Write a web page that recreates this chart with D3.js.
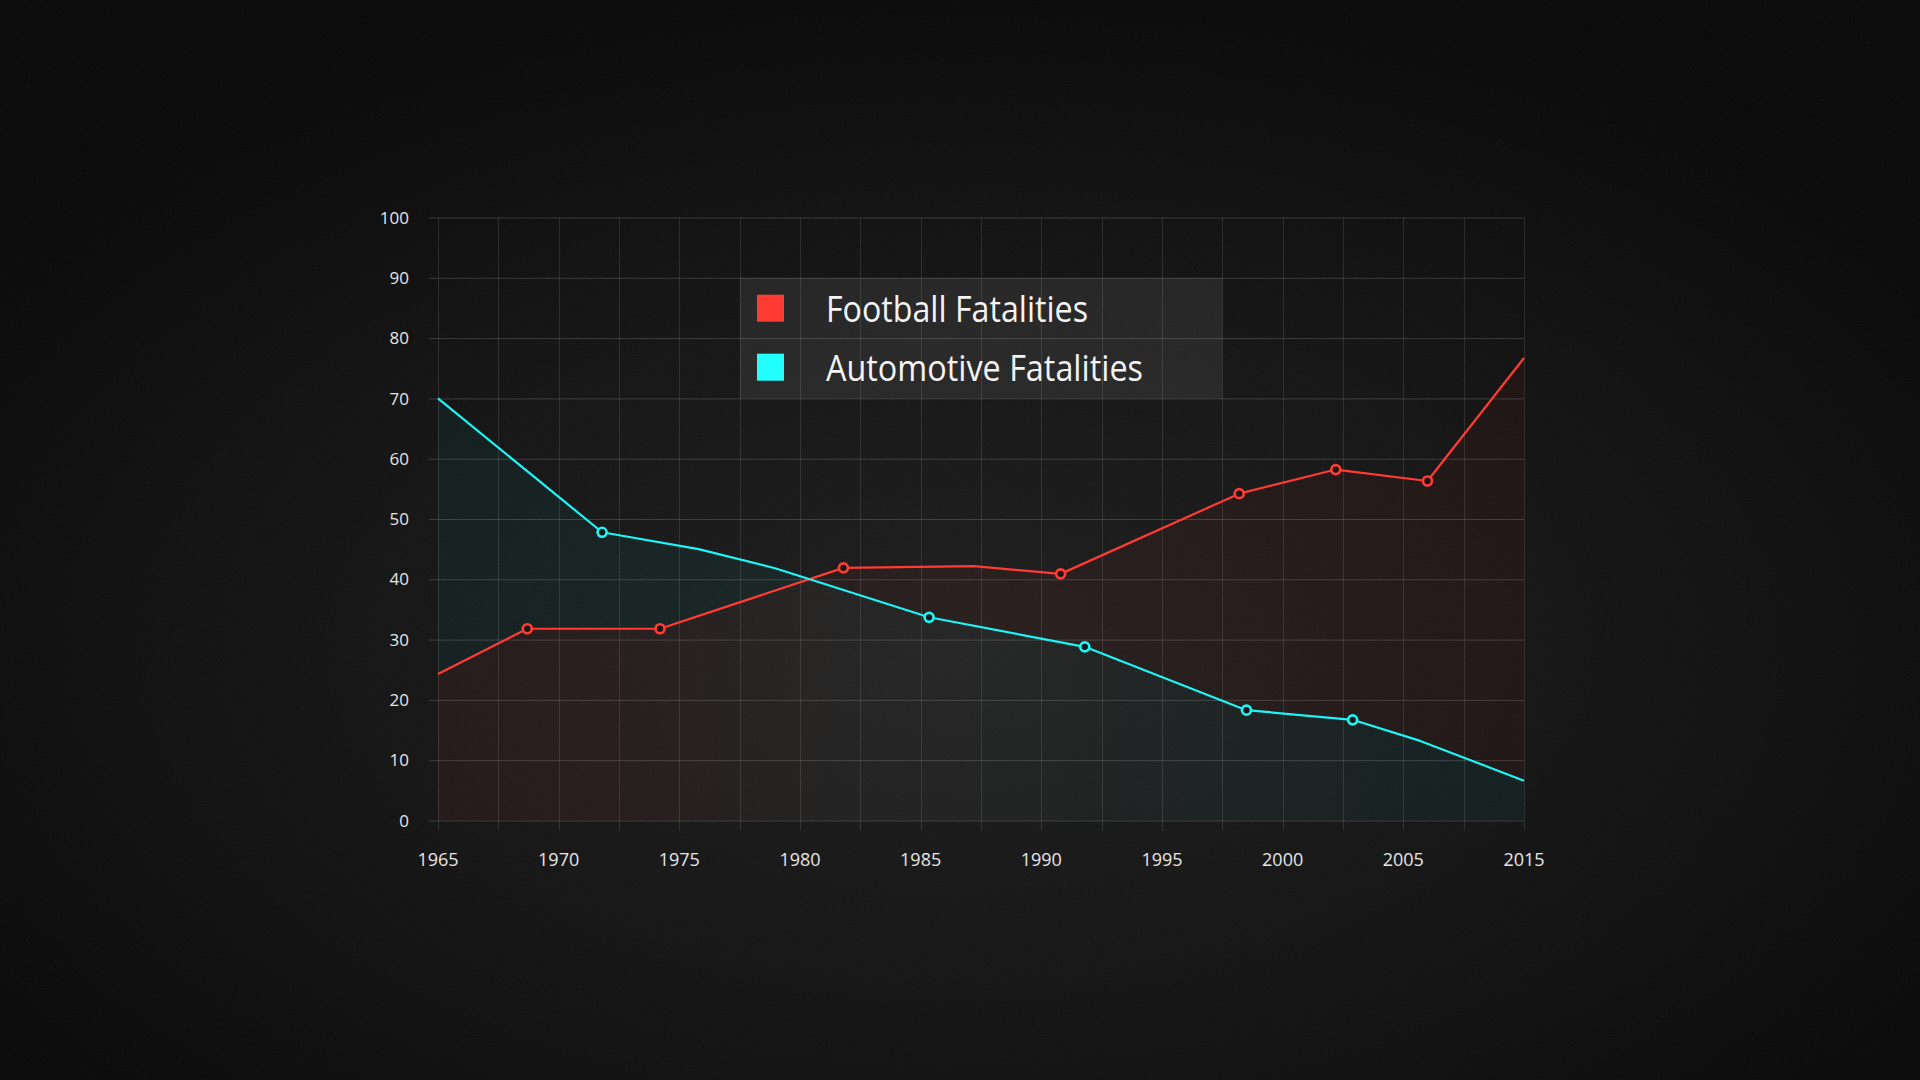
<!DOCTYPE html>
<html><head><meta charset="utf-8">
<script src="https://cdn.jsdelivr.net/npm/d3@7"></script>
<style>html,body{margin:0;padding:0;background:#111;overflow:hidden}</style>
</head><body>
<svg id="chart" width="1920" height="1080"></svg>
<script>
// ---- data ----
const tickLabels = ["1965","1970","1975","1980","1985","1990","1995","2000","2005","2015"];
const yTicks = [0,10,20,30,40,50,60,70,80,90,100];
const seriesNames = ["Football Fatalities","Automotive Fatalities"];
const seriesColors = ["#ff3b34","#1ff4f4"];
// x positions are read against the evenly spaced axis (5 years per label step)
const footballYears  = [1965, 1968.7, 1974.2, 1981.8, 1987.2, 1990.8, 1998.2, 2002.2, 2006.0, 2010];
const footballValues = [24.3, 31.8, 31.8, 41.9, 42.2, 40.9, 54.2, 58.2, 56.3, 76.7];
const footballMarked = [0,1,1,1,0,1,1,1,1,0];
const autoYears  = [1965, 1971.8, 1975.8, 1979.0, 1985.35, 1991.8, 1998.5, 2002.9, 2005.7, 2010];
const autoValues = [70, 47.8, 45.0, 41.8, 33.7, 28.8, 18.3, 16.7, 13.2, 6.6];
const autoMarked = [0,1,0,0,1,1,1,1,0,0];

const football = footballYears.map((x,i)=>({x, y: footballValues[i], m: footballMarked[i]}));
const auto = autoYears.map((x,i)=>({x, y: autoValues[i], m: autoMarked[i]}));

// ---- layout ----
const W = 1920, H = 1080;
const L = 438, R = 1524, T = 217.5, B = 820.5;
const x = d3.scaleLinear().domain([1965, 2010]).range([L, R]);
const y = d3.scaleLinear().domain([0, 100]).range([B, T]);

const svg = d3.select("#chart");
const defs = svg.append("defs");

// background vignette
const bg = defs.append("radialGradient").attr("id","bg").attr("cx","50%").attr("cy","60%").attr("r","62%");
bg.append("stop").attr("offset","0").attr("stop-color","#1d1d1d");
bg.append("stop").attr("offset","0.5").attr("stop-color","#141414");
bg.append("stop").attr("offset","1").attr("stop-color","#080808");
svg.append("rect").attr("width",W).attr("height",H).attr("fill","url(#bg)");

// grain
const nf = defs.append("filter").attr("id","noise").attr("x",0).attr("y",0).attr("width","100%").attr("height","100%");
nf.append("feTurbulence").attr("type","fractalNoise").attr("baseFrequency","0.9").attr("numOctaves","2").attr("seed","3");
nf.append("feColorMatrix").attr("type","saturate").attr("values","0");
svg.append("rect").attr("width",W).attr("height",H).attr("filter","url(#noise)").attr("opacity",0.05);

// legend box (behind grid)
const lgX0 = x(1977.5), lgX1 = x(1997.5), lgY0 = y(90), lgY1 = y(70);
svg.append("rect").attr("x",lgX0).attr("y",lgY0).attr("width",lgX1-lgX0).attr("height",lgY1-lgY0)
  .attr("fill","rgba(255,255,255,0.075)");

// ---- areas ----
const area = d3.area().x(d=>x(d.x)).y0(y(0)).y1(d=>y(d.y));
const redPath = area(football), cyanPath = area(auto);

defs.append("clipPath").attr("id","clipCyan").append("path").attr("d",cyanPath);
const mCyan = defs.append("mask").attr("id","notCyan").attr("maskUnits","userSpaceOnUse")
  .attr("x",0).attr("y",0).attr("width",W).attr("height",H);
mCyan.append("rect").attr("width",W).attr("height",H).attr("fill","#fff");
mCyan.append("path").attr("d",cyanPath).attr("fill","#000");
const mRed = defs.append("mask").attr("id","notRed").attr("maskUnits","userSpaceOnUse")
  .attr("x",0).attr("y",0).attr("width",W).attr("height",H);
mRed.append("rect").attr("width",W).attr("height",H).attr("fill","#fff");
mRed.append("path").attr("d",redPath).attr("fill","#000");

const ig = defs.append("linearGradient").attr("id","inter").attr("gradientUnits","userSpaceOnUse")
  .attr("x1",L).attr("y1",0).attr("x2",R).attr("y2",0);
[[0,"rgb(255,80,70)",0.065],[0.2,"rgb(255,110,100)",0.055],[0.36,"rgb(210,190,185)",0.045],
 [0.55,"rgb(190,205,205)",0.04],[0.78,"rgb(60,220,220)",0.045],[1,"rgb(0,230,230)",0.05]]
 .forEach(s=>ig.append("stop").attr("offset",s[0]).attr("stop-color",s[1]).attr("stop-opacity",s[2]));

svg.append("path").attr("d",redPath).attr("fill","rgb(255,60,55)").attr("fill-opacity",0.055).attr("mask","url(#notCyan)");
svg.append("path").attr("d",cyanPath).attr("fill","rgb(0,230,230)").attr("fill-opacity",0.05).attr("mask","url(#notRed)");
svg.append("path").attr("d",redPath).attr("fill","url(#inter)").attr("clip-path","url(#clipCyan)");

// ---- grid ----
const grid = svg.append("g");
grid.selectAll("line.h").data(yTicks).join("line").attr("class","h")
  .attr("x1",L-9).attr("x2",R).attr("y1",d=>y(d)+0.5).attr("y2",d=>y(d)+0.5)
  .attr("stroke","#fff").attr("stroke-opacity",0.16).attr("stroke-width",1);
const halfSteps = d3.range(0, 19).map(k=>1965 + 2.5*k);
grid.selectAll("line.v").data(halfSteps).join("line").attr("class","v")
  .attr("x1",d=>Math.round(x(d))+0.5).attr("x2",d=>Math.round(x(d))+0.5).attr("y1",T).attr("y2",B+10)
  .attr("stroke","#fff").attr("stroke-opacity",0.11).attr("stroke-width",1);

// ---- axes labels ----
const font = "'Open Sans', 'Noto Sans', sans-serif";
svg.append("g").selectAll("text").data(yTicks).join("text")
  .attr("x",409).attr("y",d=>y(d)).attr("dy","0.36em").attr("text-anchor","end")
  .attr("font-family",font).attr("font-size",17).attr("fill","#e6e6e6").text(d=>d);
svg.append("g").selectAll("text").data(tickLabels).join("text")
  .attr("x",(d,i)=>x(1965+5*i)).attr("y",866).attr("text-anchor","middle")
  .attr("font-family",font).attr("font-size",18).attr("fill","#e6e6e6").text(d=>d);

// ---- lines ----
const line = d3.line().x(d=>x(d.x)).y(d=>y(d.y));
[[football,seriesColors[0]],[auto,seriesColors[1]]].forEach(([data,c])=>{
  svg.append("path").attr("d",line(data)).attr("fill","none").attr("stroke",c)
    .attr("stroke-width",2.2).attr("stroke-linejoin","round");
});
[[football,seriesColors[0]],[auto,seriesColors[1]]].forEach(([data,c])=>{
  svg.append("g").selectAll("circle").data(data.filter(d=>d.m)).join("circle")
    .attr("cx",d=>x(d.x)).attr("cy",d=>y(d.y)).attr("r",4.5)
    .attr("fill","#181616").attr("stroke",c).attr("stroke-width",2.7);
});

// ---- legend ----
const lg = svg.append("g");
const legendBase = [321.7, 380.7];
const legendWidths = [262, 317];
const swatchColors = ["#ff3b34","#22ffff"];
seriesNames.forEach((n,i)=>{
  lg.append("rect").attr("x",757).attr("y",legendBase[i]-27).attr("width",27).attr("height",27).attr("fill",swatchColors[i]);
  const t = lg.append("text").attr("x",826).attr("y",legendBase[i])
    .attr("font-family",font).attr("font-size",36).attr("fill","#f4f4f4").text(n);
  const len = t.node().getComputedTextLength();
  if (Math.abs(len - legendWidths[i]) > 3) t.attr("textLength",legendWidths[i]).attr("lengthAdjust","spacingAndGlyphs");
});
</script>
</body></html>
